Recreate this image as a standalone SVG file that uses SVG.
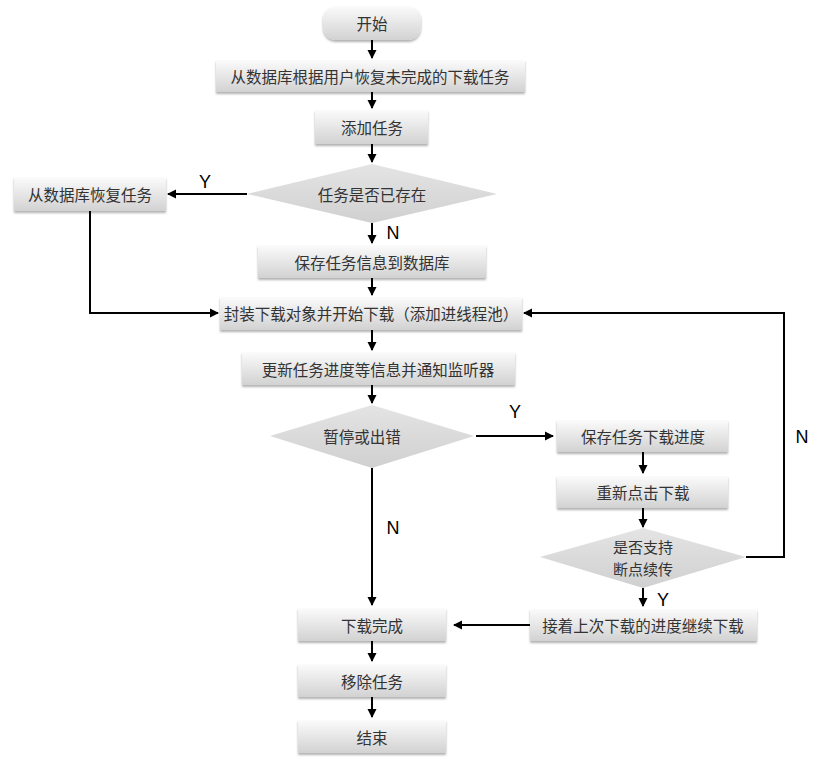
<svg xmlns="http://www.w3.org/2000/svg" width="830" height="760" viewBox="0 0 830 760">
<defs>
<linearGradient id="gb" x1="0" y1="0" x2="0" y2="1">
<stop offset="0" stop-color="#fbfbfb"/>
<stop offset="1" stop-color="#d2d2d2"/>
</linearGradient>
<linearGradient id="gd" x1="0" y1="0" x2="0" y2="1">
<stop offset="0" stop-color="#e4e4e4"/>
<stop offset="1" stop-color="#d0d0d0"/>
</linearGradient>
<filter id="sh" x="-10%" y="-20%" width="120%" height="150%">
<feDropShadow dx="0" dy="2" stdDeviation="1.2" flood-color="#000" flood-opacity="0.3"/>
</filter>
<marker id="ah" markerWidth="10" markerHeight="10" refX="8" refY="5" orient="auto" markerUnits="userSpaceOnUse">
<path d="M0,0.5 L9,5 L0,9.5 z" fill="#000"/>
</marker>
</defs>
<style>
.box{fill:url(#gb);filter:url(#sh);}
.dia{fill:url(#gd);}
.t{font-family:"Noto Sans CJK SC","Noto Sans",sans-serif;font-size:15.5px;fill:#333;text-anchor:middle;dominant-baseline:central;}
.t2{font-size:15px;}
.lbl{font-family:"Liberation Sans",Arial,sans-serif;font-size:18px;fill:#000;text-anchor:middle;dominant-baseline:central;}
.c{fill:none;stroke:#000;stroke-width:2;}
.a{marker-end:url(#ah);}
</style>
<rect width="830" height="760" fill="#fff"/>

<g id="n-start"><rect class="box" x="323" y="6" width="98" height="34" rx="13"/><text class="t" x="372" y="23">开始</text></g>
<g id="n-restore-user"><rect class="box" x="216" y="60" width="309" height="32"/><text class="t" x="370" y="76">从数据库根据用户恢复未完成的下载任务</text></g>
<g id="n-add"><rect class="box" x="315" y="110" width="113" height="34"/><text class="t" x="372" y="127">添加任务</text></g>
<g id="n-exists"><polygon class="dia" points="247,194 372,164 497,194 372,223"/><text class="t" x="372" y="194">任务是否已存在</text></g>
<g id="n-restore"><rect class="box" x="14" y="177" width="152" height="34"/><text class="t" x="90" y="194">从数据库恢复任务</text></g>
<g id="n-save"><rect class="box" x="258" y="245" width="228" height="33"/><text class="t" x="372" y="262">保存任务信息到数据库</text></g>
<g id="n-wrap"><rect class="box" x="220" y="297" width="302" height="33"/><text class="t" x="371" y="313">封装下载对象并开始下载（添加进线程池）</text></g>
<g id="n-update"><rect class="box" x="242" y="352" width="273" height="33"/><text class="t" x="378" y="369">更新任务进度等信息并通知监听器</text></g>
<g id="n-pause"><polygon class="dia" points="270,436 372,405 474,436 372,468"/><text class="t" x="362" y="436">暂停或出错</text></g>
<g id="n-saveprog"><rect class="box" x="557" y="420" width="171" height="32"/><text class="t" x="643" y="436">保存任务下载进度</text></g>
<g id="n-reclick"><rect class="box" x="557" y="476" width="171" height="32"/><text class="t" x="643" y="492">重新点击下载</text></g>
<g id="n-resume"><polygon class="dia" points="540,557 643,528 746,557 643,588"/><text class="t t2" x="643" y="546">是否支持</text><text class="t t2" x="643" y="568">断点续传</text></g>
<g id="n-continue"><rect class="box" x="530" y="609" width="227" height="32"/><text class="t" x="643" y="625">接着上次下载的进度继续下载</text></g>
<g id="n-done"><rect class="box" x="298" y="608" width="148" height="33"/><text class="t" x="372" y="625">下载完成</text></g>
<g id="n-remove"><rect class="box" x="298" y="664" width="148" height="33"/><text class="t" x="372" y="681">移除任务</text></g>
<g id="n-end"><rect class="box" x="298" y="720" width="148" height="33"/><text class="t" x="372" y="737">结束</text></g>

<g id="connectors">
<line class="c a" x1="372" y1="40" x2="372" y2="58"/>
<line class="c a" x1="372" y1="92" x2="372" y2="108"/>
<line class="c a" x1="372" y1="144" x2="372" y2="162"/>
<line class="c a" x1="247" y1="194" x2="168" y2="194"/>
<line class="c a" x1="372" y1="223" x2="372" y2="243"/>
<line class="c a" x1="372" y1="278" x2="372" y2="295"/>
<polyline class="c a" points="90,211 90,313 218,313"/>
<polyline class="c a" points="746,557 784,557 784,313 524,313"/>
<line class="c a" x1="372" y1="330" x2="372" y2="350"/>
<line class="c a" x1="372" y1="385" x2="372" y2="403"/>
<line class="c a" x1="476" y1="436" x2="553" y2="436"/>
<line class="c a" x1="643" y1="452" x2="643" y2="473"/>
<line class="c a" x1="643" y1="508" x2="643" y2="527"/>
<line class="c a" x1="643" y1="588" x2="643" y2="606"/>
<line class="c a" x1="530" y1="625" x2="454" y2="625"/>
<line class="c a" x1="372" y1="468" x2="372" y2="605"/>
<line class="c a" x1="372" y1="641" x2="372" y2="661"/>
<line class="c a" x1="372" y1="697" x2="372" y2="717"/>
<text class="lbl" x="205" y="182">Y</text>
<text class="lbl" x="393" y="233">N</text>
<text class="lbl" x="515" y="412">Y</text>
<text class="lbl" x="802" y="437">N</text>
<text class="lbl" x="393" y="528">N</text>
<text class="lbl" x="663" y="600">Y</text>
</g>
</svg>
